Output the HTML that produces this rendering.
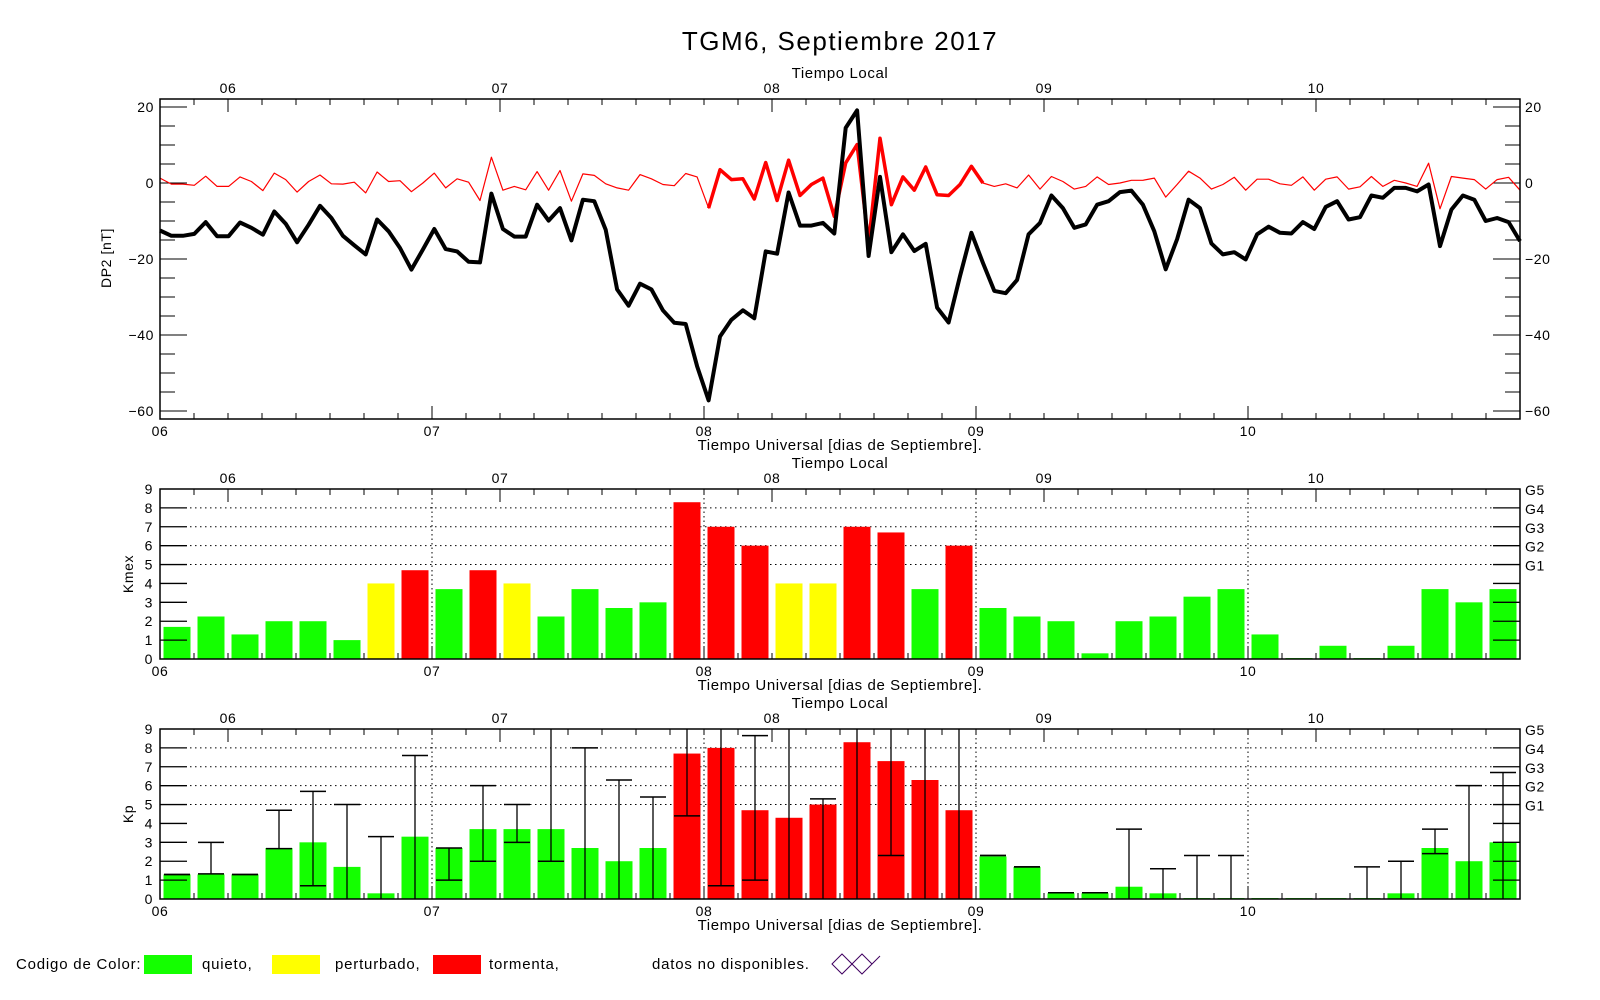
<!DOCTYPE html>
<html><head><meta charset="utf-8"><style>
body{margin:0;background:#fff;}
svg{display:block;font-family:"Liberation Sans",sans-serif;}
text{fill:#000;}
</style></head><body>
<svg id="c" width="1600" height="1000" viewBox="0 0 1600 1000" xmlns="http://www.w3.org/2000/svg">
<rect width="1600" height="1000" fill="#fff"/>
<text x="840" y="50" font-size="26" text-anchor="middle" letter-spacing="1.5">TGM6, Septiembre 2017</text>
<g font-size="15">
<text x="16" y="969" letter-spacing="0.8">Codigo de Color:</text>
<rect x="144" y="955" width="48" height="19" fill="#14ff00"/>
<text x="202" y="969" letter-spacing="0.8">quieto,</text>
<rect x="272" y="955" width="48" height="19" fill="#ffff00"/>
<text x="335" y="969" letter-spacing="0.8">perturbado,</text>
<rect x="433" y="955" width="48" height="19" fill="#ff0000"/>
<text x="489" y="969" letter-spacing="0.8">tormenta,</text>
<text x="652" y="969" letter-spacing="0.8">datos no disponibles.</text>
<path d="M832 964 L842 954 L862 974 L872 964 L862 954 L842 974 Z M872 964 L880 956" fill="none" stroke="#400060" stroke-width="1"/>
</g>
</svg>
<script>
// ---- data ----
const blackDP2 = [-12.5,-13.9,-13.9,-13.4,-10.3,-14,-14,-10.4,-11.8,-13.6,-7.5,-10.7,-15.6,-11,-6,-9.2,-13.9,-16.4,-18.8,-9.6,-12.7,-17.1,-22.8,-17.5,-12.1,-17.4,-18,-20.7,-20.9,-2.8,-12.1,-14.1,-14.1,-5.7,-9.9,-6.6,-15.1,-4.4,-4.8,-12.3,-28,-32.3,-26.5,-28,-33.5,-36.8,-37.1,-48.2,-57.2,-40.4,-36,-33.5,-35.6,-18,-18.6,-2.5,-11.2,-11.2,-10.5,-13.3,14.5,19.1,-19.2,1.6,-18.2,-13.5,-17.9,-16,-32.8,-36.7,-24.5,-13.1,-21,-28.4,-29,-25.5,-13.5,-10.5,-3.3,-6.6,-11.8,-10.9,-5.7,-4.8,-2.4,-2,-5.7,-12.7,-22.7,-14.8,-4.4,-6.6,-15.9,-18.8,-18.2,-20.1,-13.5,-11.5,-13.1,-13.3,-10.3,-12.1,-6.3,-4.8,-9.6,-9,-3.3,-3.9,-1.3,-1.3,-2.2,-0.4,-16.6,-7,-3.3,-4.4,-10,-9.2,-10.3,-15.3];
const redDP2 = [1.3,-0.3,-0.3,-0.6,1.8,-0.9,-0.9,1.6,0.4,-2,2.6,0.9,-2.4,0.4,2.1,-0.2,-0.3,0.2,-2.6,2.9,0.4,0.6,-2.3,0,2.6,-1.3,1.1,0.2,-4.6,6.8,-1.9,-0.9,-1.8,3,-1.9,3.3,-4.8,2.4,2,-0.2,-1.3,-1.9,2.2,1.1,-0.4,-0.7,2.5,1.6,-6.6,3.5,0.9,1.1,-4.2,5.4,-4.6,6,-3.3,-0.4,1.3,-8.8,5.3,10.1,-15.8,11.8,-5.7,1.6,-1.9,4.2,-3.1,-3.3,-0.4,4.4,0,-0.9,-0.2,-1.3,2.1,-1.6,1.7,0.4,-1.6,-0.9,1.6,-0.4,0,0.7,0.7,1.3,-3.7,-0.4,3.1,1.3,-1.6,-0.4,1.5,-1.9,1,1,-0.2,-0.6,1.6,-1.9,1,1.6,-1.6,-1,1.7,-0.9,0.7,0,-0.9,5.2,-6.8,1.7,1.3,0.9,-1.6,0.9,1.5,-1.9];
const redThickStart = 48, redThickEnd = 72;
const kmexValues = [1.7,2.25,1.3,2.0,2.0,1.0,4.0,4.7, 3.7,4.7,4.0,2.25,3.7,2.7,3.0,8.3, 7.0,6.0,4.0,4.0,7.0,6.7,3.7,6.0, 2.7,2.25,2.0,0.3,2.0,2.25,3.3,3.7, 1.3,0.05,0.7,0.05,0.7,3.7,3.0,3.7];
const kmexClass = ['q','q','q','q','q','q','p','t', 'q','t','p','q','q','q','q','t', 't','t','p','p','t','t','q','t', 'q','q','q','q','q','q','q','q', 'q','q','q','q','q','q','q','q'];
const kpValues = [1.3,1.3,1.3,2.7,3.0,1.7,0.3,3.3, 2.7,3.7,3.7,3.7,2.7,2.0,2.7,7.7, 8.0,4.7,4.3,5.0,8.3,7.3,6.3,4.7, 2.25,1.7,0.3,0.3,0.65,0.3,0.05,0.05, 0.05,0.05,0.05,0.05,0.3,2.7,2.0,3.0];
const kpClass = ['q','q','q','q','q','q','q','q', 'q','q','q','q','q','q','q','t', 't','t','t','t','t','t','t','t', 'q','q','q','q','q','q','q','q', 'q','q','q','q','q','q','q','q'];
const kpLow  = [1.3,1.33,1.3,2.67,0.7,0,0,0, 1.0,2.0,3.0,2.0,0,0,0,4.4, 0.7,1.0,0,0,0,2.3,0,0, 2.3,1.7,0.33,0.33,0,0,0,0, null,null,null,0,0,2.4,0,0];
const kpHigh = [1.3,3.0,1.3,4.7,5.7,5.0,3.3,7.6, 2.7,6.0,5.0,9,8.0,6.3,5.4,9, 9,8.65,9,5.3,9,9,9,9, 2.3,1.7,0.33,0.33,3.7,1.6,2.3,2.3, null,null,null,1.7,2.0,3.7,6.0,6.7];
const dayLabels = ['06','07','08','09','10'];
const dp2Ticks = [20,0,-20,-40,-60];
const kTicks = [0,1,2,3,4,5,6,7,8,9];
const gLabels = ['G1','G2','G3','G4','G5'];

// ---- layout ----
const NS='http://www.w3.org/2000/svg';
const svg=document.getElementById('c');
const X0=160,X1=1520,HOURS=120;
const xH=h=>X0+h*(X1-X0)/HOURS;
const colors={q:'#14ff00',p:'#ffff00',t:'#ff0000'};
function mk(tag,attrs,parent){const e=document.createElementNS(NS,tag);for(const k in attrs)e.setAttribute(k,attrs[k]);(parent||svg).appendChild(e);return e;}
function txt(parent,x,y,s,size,anchor){const t=mk('text',{x:x,y:y,'font-size':size||14,'text-anchor':anchor||'middle','letter-spacing':'0.6'},parent);t.textContent=s;return t;}

function timeAxes(g,top,bottom,name){
  // bottom UT ticks
  for(let h=0;h<=HOURS;h+=3){const L=(h%24===0)?13:6;mk('line',{x1:xH(h),y1:bottom,x2:xH(h),y2:bottom-L,stroke:'#000','stroke-width':1},g);}
  // top local ticks (local = UT - 6)
  for(let h=0;h<=HOURS;h+=3){const L=((h-6+24)%24===0)?13:6;mk('line',{x1:xH(h),y1:top,x2:xH(h),y2:top+L,stroke:'#000','stroke-width':1},g);}
  dayLabels.forEach((d,i)=>{
    const l1=txt(g,xH(i*24),bottom+17,d,14);
    
    
    const l2=txt(g,xH(i*24+6),top-6,d,14);
    
    
  });
  const a=txt(g,840,bottom+31,'Tiempo Universal [dias de Septiembre].',15);
  
  
  const b=txt(g,840,top-21,'Tiempo Local',15);
  
  
}

// ---- top panel ----
(function(){
  const g=mk('g',{});
  
  
  const T=99,B=419;
  const yV=v=>107+(20-v)*3.8;
  for(let v=-60;v<=20;v+=5){const L=(v%20===0)?27:15;
    mk('line',{x1:X0,y1:yV(v),x2:X0+L,y2:yV(v),stroke:'#000','stroke-width':1},g);
    mk('line',{x1:X1,y1:yV(v),x2:X1-L,y2:yV(v),stroke:'#000','stroke-width':1},g);}
  dp2Ticks.forEach(v=>{
    const s=v<0?'\u2212'+(-v):String(v);
    const a=txt(g,154,yV(v)+5,s,14,'end');
    
    
    const b=txt(g,1525,yV(v)+5,s,14,'start');
    
    
  });
  const yl=txt(g,0,0,'DP2 [nT]',14);
  yl.setAttribute('transform','translate(111,258) rotate(-90)');
  
  
  timeAxes(g,T,B,'dp2');
  const xi=i=>X0+i*(X1-X0)/(blackDP2.length-1);
  const red=redDP2.map((v,i)=>xi(i).toFixed(1)+','+yV(v).toFixed(1)).join(' ');
  const rl=mk('polyline',{points:red,fill:'none',stroke:'#ff0000','stroke-width':1.2,'stroke-linejoin':'round'},g);
  
  
  const redT=redDP2.slice(redThickStart,redThickEnd+1).map((v,k)=>xi(k+redThickStart).toFixed(1)+','+yV(v).toFixed(1)).join(' ');
  const rt=mk('polyline',{points:redT,fill:'none',stroke:'#ff0000','stroke-width':3.5,'stroke-linejoin':'round'},g);
  
  
  const blk=blackDP2.map((v,i)=>xi(i).toFixed(1)+','+yV(v).toFixed(1)).join(' ');
  const bl=mk('polyline',{points:blk,fill:'none',stroke:'#000','stroke-width':4,'stroke-linejoin':'round'},g);
  
  
  const fr=mk('rect',{x:X0,y:T,width:X1-X0,height:B-T,fill:'none',stroke:'#000','stroke-width':1.5},g);
  
  
})();

// ---- bar panels ----
function barPanel(name,T,B,vals,cls,lo,hi,label){
  const g=mk('g',{});
  
  
  const yV=v=>B-v*(B-T)/9;
  [5,6,7,8].forEach(v=>mk('line',{x1:190,y1:yV(v),x2:1493,y2:yV(v),stroke:'#000','stroke-width':1,'stroke-dasharray':'1.5,3.5'},g));
  [1,2,3,4].forEach(d=>mk('line',{x1:xH(d*24),y1:T,x2:xH(d*24),y2:B,stroke:'#000','stroke-width':1,'stroke-dasharray':'1.5,3'},g));
  vals.forEach((v,i)=>{
    const r=mk('rect',{x:X0+i*34+3.5,y:yV(v),width:27,height:B-yV(v),fill:colors[cls[i]]},g);
    
    
  });
  if(lo){vals.forEach((v,i)=>{
    if(lo[i]===null)return;
    const cx=X0+i*34+17;
    const eg=mk('g',{},g);
    
    
    mk('line',{x1:cx,y1:yV(lo[i]),x2:cx,y2:yV(hi[i]),stroke:'#000','stroke-width':1.3},eg);
    if(lo[i]>0.01)mk('line',{x1:cx-13,y1:yV(lo[i]),x2:cx+13,y2:yV(lo[i]),stroke:'#000','stroke-width':1.5},eg);
    if(hi[i]<8.99)mk('line',{x1:cx-13,y1:yV(hi[i]),x2:cx+13,y2:yV(hi[i]),stroke:'#000','stroke-width':1.5},eg);
  });}
  for(let v=1;v<=8;v++){
    mk('line',{x1:X0,y1:yV(v),x2:X0+27,y2:yV(v),stroke:'#000','stroke-width':1.3},g);
    mk('line',{x1:X1,y1:yV(v),x2:X1-27,y2:yV(v),stroke:'#000','stroke-width':1.3},g);
  }
  kTicks.forEach(v=>{
    const t=txt(g,153,yV(v)+5,String(v),14,'end');
    
    
  });
  gLabels.forEach((s,k)=>{
    const t=txt(g,1525,yV(5+k)+6,s,14,'start');
    
    
  });
  const yl=txt(g,0,0,label,14);
  yl.setAttribute('transform','translate(133,'+((T+B)/2)+') rotate(-90)');
  
  
  timeAxes(g,T,B,name);
  const fr=mk('rect',{x:X0,y:T,width:X1-X0,height:B-T,fill:'none',stroke:'#000','stroke-width':1.5},g);
  
  
}
barPanel('kmex',489,659,kmexValues,kmexClass,null,null,'Kmex');
barPanel('kp',729,899,kpValues,kpClass,kpLow,kpHigh,'Kp');
</script>
</body></html>
